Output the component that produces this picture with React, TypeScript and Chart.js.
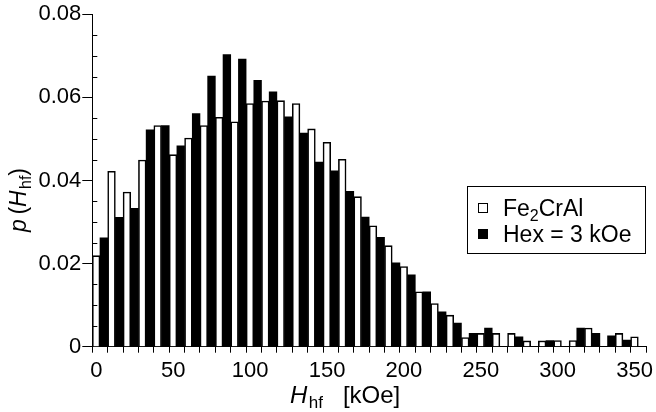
import React, { useEffect, useRef } from 'react';
import { Chart, registerables } from 'chart.js';

Chart.register(...registerables);

// Bin centres of the H_hf histogram (kOe), 10 kOe bins
const binCenters = [5, 15, 25, 35, 45, 55, 65, 75, 85, 95, 105, 115, 125, 135, 145, 155, 165, 175, 185, 195, 205, 215, 225, 235, 245, 255, 265, 275, 285, 295, 305, 315, 325, 335, 345, 355];

// p(H_hf) for Fe2CrAl (open bars)
const fe2CrAl = [0.0219, 0.0422, 0.0372, 0.0449, 0.0532, 0.0462, 0.0502, 0.0532, 0.0552, 0.0541, 0.0585, 0.0591, 0.0592, 0.0585, 0.0524, 0.0492, 0.0451, 0.0361, 0.0291, 0.0243, 0.0193, 0.0132, 0.0104, 0.0076, 0.0022, 0.0032, 0.0032, 0.0032, 0.0014, 0.0014, 0.0015, 0.0015, 0.0045, 0, 0.0032, 0.0024];

// p(H_hf) for Hex = 3 kOe (filled bars)
const hex3kOe = [0.0262, 0.0311, 0.0333, 0.0522, 0.0532, 0.0483, 0.0561, 0.0651, 0.0703, 0.0692, 0.0641, 0.0613, 0.0553, 0.0514, 0.0444, 0.0423, 0.0374, 0.0312, 0.0263, 0.0202, 0.0173, 0.0132, 0.0084, 0.0057, 0.0032, 0.0045, 0, 0.0024, 0, 0.0015, 0, 0.0045, 0.0032, 0.0026, 0.0016, 0];

const seriesLabels = ['Fe2CrAl', 'Hex = 3 kOe'];
const xTickLabels = [0, 50, 100, 150, 200, 250, 300, 350];
const yTickLabels = [0, 0.02, 0.04, 0.06, 0.08];

const FAMILY = '"Liberation Sans", Arial, Helvetica, sans-serif';

type Run = { t: string; size: number; italic?: boolean; dy?: number };

function drawRuns(ctx: CanvasRenderingContext2D, runs: Run[], x: number, y: number, center = false) {
  let total = 0;
  const widths: number[] = [];
  for (const r of runs) {
    ctx.font = `${r.italic ? 'italic ' : ''}${r.size}px ${FAMILY}`;
    const w = ctx.measureText(r.t).width;
    widths.push(w);
    total += w;
  }
  let cx = center ? x - total / 2 : x;
  runs.forEach((r, i) => {
    ctx.font = `${r.italic ? 'italic ' : ''}${r.size}px ${FAMILY}`;
    ctx.fillText(r.t, cx, y + (r.dy || 0));
    cx += widths[i];
  });
}

const isMajor = (v: number) => yTickLabels.some((t) => Math.abs(t - v) < 1e-7);

const decorPlugin = {
  id: 'decor',
  afterDraw(chart: any) {
    const ctx: CanvasRenderingContext2D = chart.ctx;
    const ca = chart.chartArea;
    const ys = chart.scales.y;
    ctx.save();
    // inward minor ticks on y axis
    ctx.strokeStyle = '#000';
    ctx.lineWidth = 1;
    for (const t of ys.ticks) {
      if (isMajor(t.value)) continue;
      const py = Math.round(ys.getPixelForValue(t.value)) + 0.5;
      ctx.beginPath();
      ctx.moveTo(ca.left, py);
      ctx.lineTo(ca.left + 5, py);
      ctx.stroke();
    }
    ctx.fillStyle = '#000';
    ctx.textBaseline = 'alphabetic';
    ctx.textAlign = 'left';

    // y title
    ctx.save();
    ctx.translate(26, 200);
    ctx.rotate(-Math.PI / 2);
    drawRuns(ctx, [
      { t: 'p', size: 23, italic: true },
      { t: '\u2009(', size: 23 },
      { t: 'H', size: 23, italic: true },
      { t: '\u200Ahf', size: 16, dy: 5 },
      { t: ')', size: 23 },
    ], 0, 0, true);
    ctx.restore();

    // x title
    drawRuns(ctx, [
      { t: 'H', size: 24, italic: true },
      { t: '\u200Ahf', size: 17, dy: 5 },
      { t: '   [kOe]', size: 24 },
    ], 290, 403);

    // legend
    ctx.lineWidth = 1;
    ctx.strokeStyle = '#000';
    ctx.fillStyle = '#fff';
    ctx.fillRect(467.5, 186.5, 178, 67);
    ctx.strokeRect(467.5, 186.5, 178, 67);
    ctx.fillStyle = '#fff';
    ctx.fillRect(478.5, 203.5, 9, 9);
    ctx.strokeRect(478.5, 203.5, 9, 9);
    ctx.fillStyle = '#000';
    ctx.fillRect(478, 229, 10, 10);
    drawRuns(ctx, [
      { t: 'Fe', size: 23 },
      { t: '2', size: 16, dy: 5 },
      { t: 'CrAl', size: 23 },
    ], 503, 216);
    drawRuns(ctx, [{ t: seriesLabels[1], size: 23 }], 503, 242);
    ctx.restore();
  },
};

export default function App() {
  const ref = useRef<HTMLCanvasElement | null>(null);
  useEffect(() => {
    if (!ref.current) return;
    const chart = new Chart(ref.current, {
      type: 'bar',
      data: {
        datasets: [
          {
            label: seriesLabels[0],
            data: binCenters.map((x, i) => ({ x, y: fe2CrAl[i] })),
            backgroundColor: '#ffffff',
            borderColor: '#000000',
            borderWidth: 1.6,
            borderSkipped: 'bottom',
            barPercentage: 1,
            categoryPercentage: 1,
          },
          {
            label: seriesLabels[1],
            data: binCenters.map((x, i) => ({ x, y: hex3kOe[i] })),
            backgroundColor: '#000000',
            borderColor: '#000000',
            borderWidth: 0,
            barPercentage: 1,
            categoryPercentage: 1,
          },
        ],
      } as any,
      options: {
        responsive: false,
        animation: false,
        layout: { padding: { left: 0, top: 4, right: 10, bottom: 0 } },
        plugins: { legend: { display: false }, tooltip: { enabled: false } },
        scales: {
          x: {
            type: 'linear',
            min: 0,
            max: 360,
            offset: false,
            grid: { offset: false, drawOnChartArea: false, drawTicks: true, tickLength: 6, tickColor: '#000', color: '#000' },
            border: { display: true, color: '#000', width: 1 },
            ticks: {
              stepSize: 10,
              autoSkip: false,
              maxRotation: 0,
              padding: 5,
              labelOffset: 4,
              color: '#000',
              font: { family: FAMILY, size: 22 },
              callback: (v: any) => (xTickLabels.includes(Number(v)) ? String(v) : ''),
            },
            afterFit: (s: any) => {
              s.height = 65.3;
            },
          },
          y: {
            type: 'linear',
            min: 0,
            max: 0.08,
            grid: {
              drawOnChartArea: false,
              drawTicks: true,
              tickLength: 10,
              color: '#000',
              tickColor: (c: any) => (isMajor(c.tick.value) ? '#000' : 'rgba(0,0,0,0)'),
            },
            border: { display: true, color: '#000', width: 1 },
            ticks: {
              stepSize: 0.005,
              autoSkip: false,
              padding: 1,
              color: '#000',
              font: { family: FAMILY, size: 22 },
              callback: (v: any) => {
                const n = Number(v);
                if (!isMajor(n)) return '';
                return n === 0 ? '0' : n.toFixed(2);
              },
            },
            afterFit: (s: any) => {
              s.width = 92.3;
            },
          },
        },
      } as any,
      plugins: [decorPlugin],
    });
    return () => chart.destroy();
  }, []);
  return (
    <div style={{ position: 'absolute', left: 0, top: 0, width: 656, height: 412, background: '#fff' }}>
      <canvas ref={ref} width={656} height={412} />
    </div>
  );
}
